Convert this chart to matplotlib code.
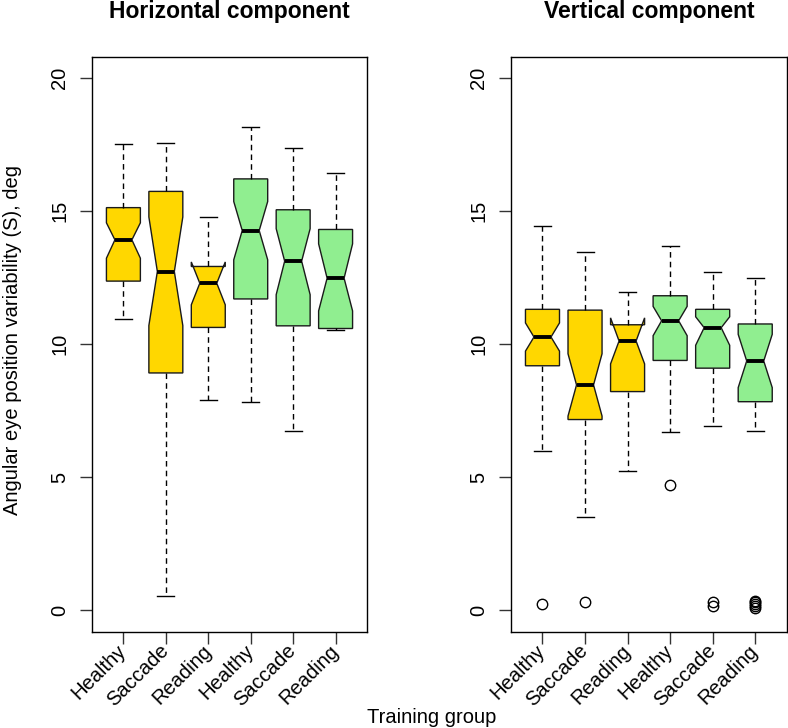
import numpy as np
import matplotlib.pyplot as plt

plt.rcParams['font.family'] = ['Liberation Sans', 'DejaVu Sans']

groups = ['Healthy', 'Saccade', 'Reading', 'Healthy', 'Saccade', 'Reading']
box_colors = ['#FFD700', '#FFD700', '#FFD700', '#90EE90', '#90EE90', '#90EE90']

# horizontal component (deg)
h_whislo = [10.94, 0.54, 7.89, 7.84, 6.74, 10.54]
h_q1 = [12.37, 8.92, 10.63, 11.70, 10.69, 10.59]
h_med = [13.92, 12.73, 12.29, 14.27, 13.12, 12.48]
h_q3 = [15.13, 15.74, 12.92, 16.21, 15.05, 14.31]
h_whishi = [17.51, 17.54, 14.78, 18.15, 17.37, 16.42]
h_cilo = [13.23, 10.70, 11.48, 13.17, 11.86, 11.25]
h_cihi = [14.56, 14.78, 13.09, 15.36, 14.34, 13.77]
h_fliers = [[], [], [], [], [], []]

# vertical component (deg)
v_whislo = [6.00, 3.52, 5.22, 6.70, 6.92, 6.73]
v_q1 = [9.19, 7.17, 8.22, 9.39, 9.10, 7.84]
v_med = [10.27, 8.47, 10.12, 10.88, 10.62, 9.37]
v_q3 = [11.31, 11.28, 10.73, 11.82, 11.31, 10.76]
v_whishi = [14.43, 13.45, 11.96, 13.70, 12.72, 12.48]
v_cilo = [9.74, 7.30, 9.26, 10.32, 9.96, 8.37]
v_cihi = [10.80, 9.64, 10.99, 11.42, 11.03, 10.37]
v_fliers = [[0.25], [0.33], [], [4.70], [0.16, 0.31], [0.10, 0.17, 0.24, 0.31, 0.36]]


def make_stats(whislo, q1, med, q3, whishi, cilo, cihi, fliers):
    stats = []
    for i in range(len(med)):
        stats.append(dict(whislo=whislo[i], q1=q1[i], med=med[i], q3=q3[i],
                          whishi=whishi[i], cilo=cilo[i], cihi=cihi[i],
                          fliers=np.array(fliers[i])))
    return stats


def draw_panel(ax, stats, title):
    pos = np.arange(1, len(stats) + 1)
    bp = ax.bxp(stats, positions=pos, widths=0.8, capwidths=0.4,
                shownotches=True, patch_artist=True, manage_ticks=False,
                boxprops=dict(edgecolor='#1a1a1a', linewidth=1.0),
                whiskerprops=dict(color='black', linewidth=1.0, linestyle=(0, (4, 3))),
                capprops=dict(color='black', linewidth=1.0),
                medianprops=dict(color='black', linewidth=2.8, solid_capstyle='butt'),
                flierprops=dict(marker='o', markerfacecolor='none',
                                markeredgecolor='black', markersize=7.5,
                                markeredgewidth=1.0))
    for patch, c in zip(bp['boxes'], box_colors):
        patch.set_facecolor(c)
    ax.set_xlim(0.26, 6.74)
    ax.set_ylim(-0.8, 20.8)
    ax.set_yticks([0, 5, 10, 15, 20])
    ax.set_xticks(pos)
    ax.set_xticklabels(groups)
    ax.tick_params(axis='both', direction='out', length=8.5, width=1.0,
                   labelsize=14.5, color='#333333')
    ax.tick_params(axis='y', pad=8)
    ax.tick_params(axis='x', pad=3)
    plt.setp(ax.get_yticklabels(), rotation=90, va='center')
    plt.setp(ax.get_xticklabels(), rotation=45, ha='right', va='center',
             rotation_mode='anchor')
    for s in ax.spines.values():
        s.set_linewidth(1.0)
    ax.set_title(title, fontsize=16.5, fontweight='bold', pad=28)


fig = plt.figure(figsize=(7.88, 7.28), dpi=100)
ax1 = fig.add_axes([92 / 788, 96.3 / 728, 275 / 788, 575 / 728])
ax2 = fig.add_axes([511 / 788, 96.3 / 728, 275.7 / 788, 575 / 728])

draw_panel(ax1, make_stats(h_whislo, h_q1, h_med, h_q3, h_whishi, h_cilo, h_cihi, h_fliers),
           'Horizontal component')
draw_panel(ax2, make_stats(v_whislo, v_q1, v_med, v_q3, v_whishi, v_cilo, v_cihi, v_fliers),
           'Vertical component')

fig.text(13 / 788, 1 - 340 / 728, 'Angular eye position variability (S), deg',
         rotation=90, ha='center', va='center', fontsize=14.5)
fig.text(432 / 788, 5 / 728, 'Training group', ha='center', va='baseline', fontsize=14.5)

fig.savefig('out.png', dpi=100)
